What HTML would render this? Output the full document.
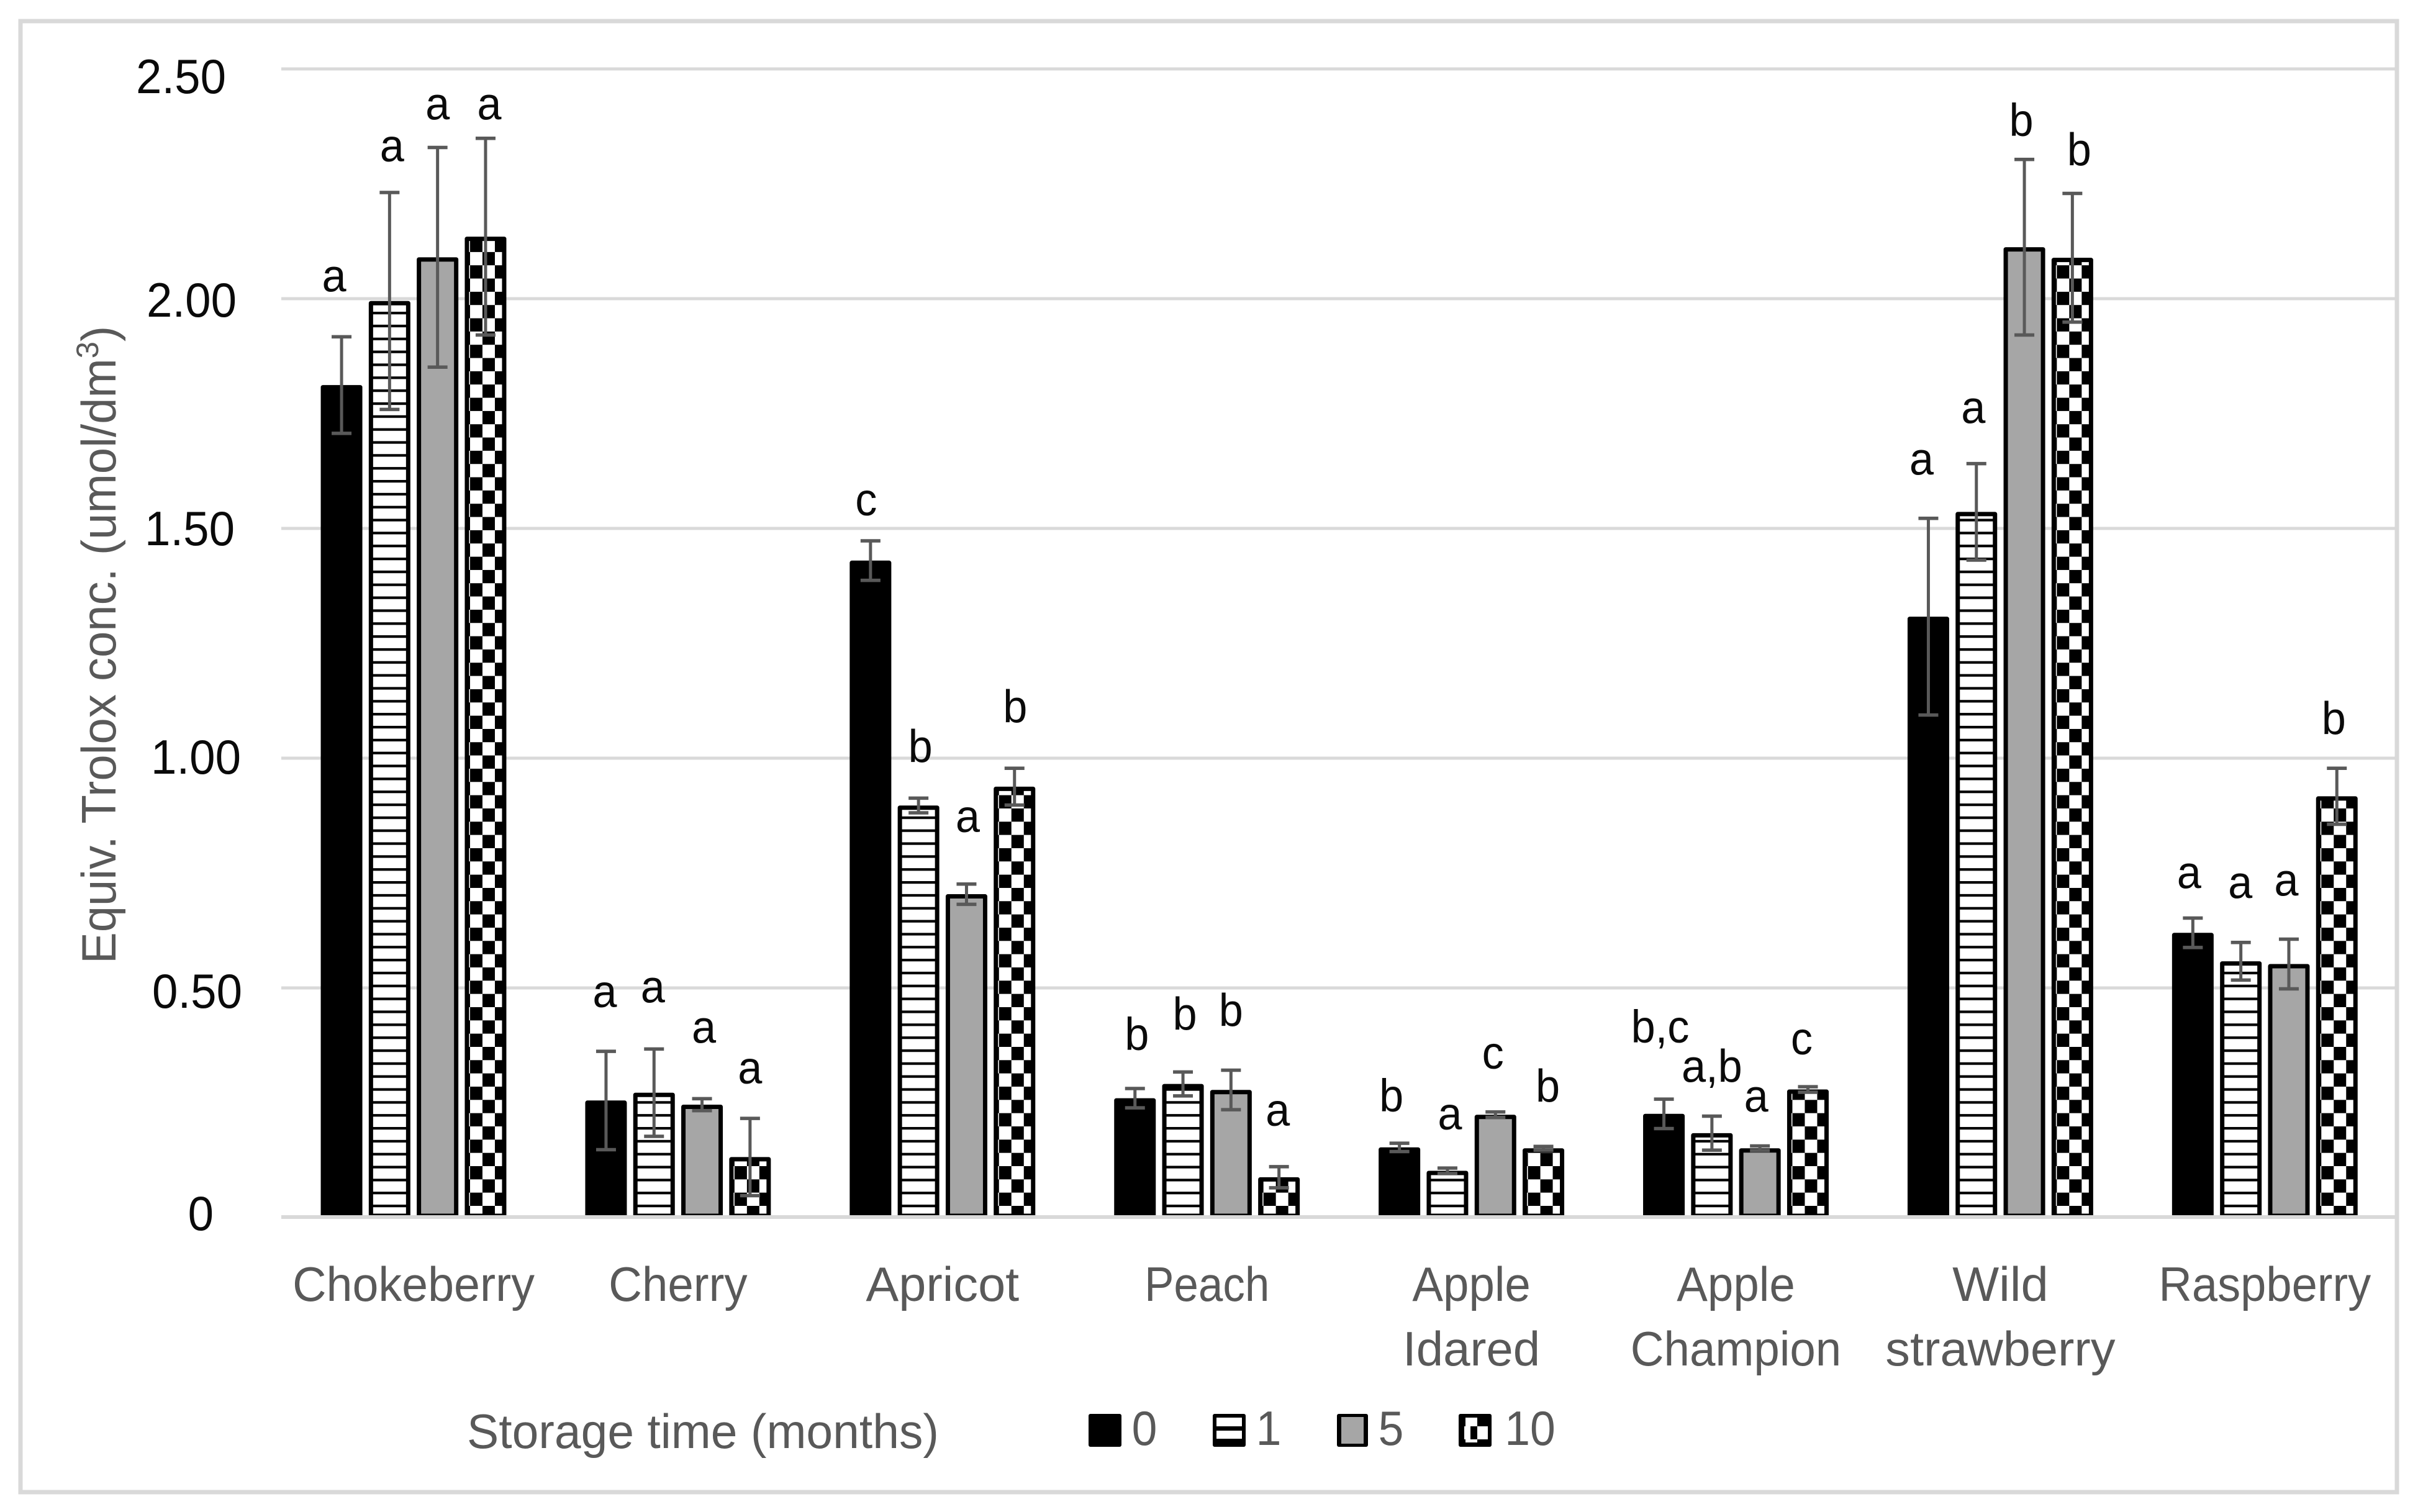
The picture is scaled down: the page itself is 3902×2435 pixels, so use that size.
<!DOCTYPE html>
<html lang="en">
<head>
<meta charset="utf-8">
<title>Equivalent Trolox concentration by fruit and storage time</title>
<style>
  html, body { margin: 0; padding: 0; background: #ffffff; }
  svg { display: block; }
  text { font-family: "Liberation Sans", sans-serif; }
</style>
</head>
<body>
<svg id="chart" xmlns="http://www.w3.org/2000/svg" width="3902" height="2435" viewBox="0 0 3902 2435">
  <defs id="defs">
    <pattern id="stripes" patternUnits="userSpaceOnUse" x="0" y="1940" width="21" height="20.84">
      <rect x="0" y="0" width="21" height="20.84" fill="#ffffff"></rect>
      <rect x="0" y="0" width="21" height="4.2" fill="#000000"></rect>
    </pattern>
  </defs>
  <rect x="0" y="0" width="3902" height="2435" fill="#ffffff"></rect>
  <rect x="33" y="34" width="3827" height="2369" fill="#ffffff" stroke="#d9d9d9" stroke-width="7"></rect>
  <g id="grid"></g>
  <g id="ticks"></g>
  <g id="bars"></g>
  <g id="errors"></g>
  <g id="letters"></g>
  <rect id="baseline" x="453" y="1957" width="3404" height="6" fill="#d9d9d9"></rect>
  <g id="cats"></g>
  <text transform="translate(186,1552) rotate(-90) scale(0.975,1)" font-size="78" fill="#595959">Equiv. Trolox conc. (umol/dm<tspan font-size="50" dy="-28">3</tspan><tspan dy="28">)</tspan></text>
  <text transform="translate(752,2332) scale(0.985,1)" font-size="78" fill="#595959">Storage time (months)</text>
  <g id="legend">
    <g>
      <rect x="1753" y="2277" width="53" height="53" rx="3" fill="#000000"></rect>
      <text transform="translate(1843,2327) scale(0.94,1)" text-anchor="middle" font-size="78" fill="#595959">0</text>
    </g>
    <g>
      <rect x="1953" y="2277" width="53" height="53" rx="3" fill="#000000"></rect>
      <rect x="1959" y="2283" width="41" height="14" fill="#ffffff"></rect>
      <rect x="1959" y="2304" width="41" height="13" fill="#ffffff"></rect>
      <text transform="translate(2043,2327) scale(0.94,1)" text-anchor="middle" font-size="78" fill="#595959">1</text>
    </g>
    <g>
      <rect x="2153" y="2277" width="50" height="53" rx="3" fill="#000000"></rect>
      <rect x="2160" y="2282" width="36" height="43" fill="#a6a6a6"></rect>
      <text transform="translate(2240,2327) scale(0.94,1)" text-anchor="middle" font-size="78" fill="#595959">5</text>
    </g>
    <g>
      <rect x="2349" y="2277" width="53" height="53" rx="3" fill="#000000"></rect>
      <rect x="2360" y="2283" width="19" height="14" fill="#ffffff"></rect>
      <rect x="2358" y="2297" width="10" height="21" fill="#ffffff"></rect>
      <rect x="2379" y="2297" width="17" height="21" fill="#ffffff"></rect>
      <rect x="2360" y="2318" width="19" height="5" fill="#ffffff"></rect>
      <text transform="translate(2464,2327) scale(0.94,1)" text-anchor="middle" font-size="78" fill="#595959">10</text>
    </g>
  </g>
</svg>
<script>
// ---- chart data ----
const categories = [['Chokeberry'], ['Cherry'], ['Apricot'], ['Peach'], ['Apple', 'Idared'], ['Apple', 'Champion'], ['Wild', 'strawberry'], ['Raspberry']];
const storageMonths = ['0', '1', '5', '10'];
const values0 = [1.812, 0.255, 1.43, 0.26, 0.153, 0.226, 1.308, 0.62];
const values1 = [1.995, 0.272, 0.897, 0.291, 0.102, 0.184, 1.536, 0.558];
const values5 = [2.09, 0.246, 0.704, 0.278, 0.224, 0.151, 2.112, 0.552];
const values10 = [2.135, 0.132, 0.938, 0.088, 0.151, 0.279, 2.089, 0.917];
const errors0 = [0.105, 0.107, 0.043, 0.021, 0.009, 0.032, 0.214, 0.032];
const errors1 = [0.236, 0.095, 0.016, 0.026, 0.006, 0.037, 0.105, 0.041];
const errors5 = [0.239, 0.013, 0.022, 0.043, 0.006, 0.005, 0.191, 0.054];
const errors10 = [0.214, 0.084, 0.04, 0.023, 0.004, 0.006, 0.14, 0.061];
const letters0 = ['a', 'a', 'c', 'b', 'b', 'b,c', 'a', 'a'];
const letters1 = ['a', 'a', 'b', 'b', 'a', 'a,b', 'a', 'a'];
const letters5 = ['a', 'a', 'a', 'b', 'c', 'a', 'b', 'a'];
const letters10 = ['a', 'a', 'b', 'a', 'b', 'c', 'b', 'b'];
const tickValues = [0, 0.5, 1, 1.5, 2, 2.5];
const tickLabels = ['0', '0.50', '1.00', '1.50', '2.00', '2.50'];

const seriesValues = [values0, values1, values5, values10];
const seriesErrors = [errors0, errors1, errors5, errors10];
const seriesLetters = [letters0, letters1, letters5, letters10];

// ---- axis functions ----
const SVG_NS = 'http://www.w3.org/2000/svg';
const yScale = function (v) { return 1961 - 740 * v; };
const xCategory = function (i) { return 666 + 425.9 * i; };
const xBar = function (i, j) { return xCategory(i) + (j - 1.5) * 77.3; };
const BAR_W = 67;
const BAR_STROKE = 7;

// hand placement of annotations in the original figure (px, not data)
const letterDx = [[-12, -2, -7, 3, -13, -6, -11, -6], [4, -2, 3, 3, 4, 0, -5, -1], [0, 3, 2, 0, -4, -6, -5, -4], [6, 0, 1, -2, 7, -10, 11, -5]];
const letterDy = [[-73, -71, -41, -62, -51, -91, -70, -48], [-50, -75, -58, -68, -62, -55, -65, -71], [-45, -90, -84, -71, -70, -55, -38, -70], [-30, -56, -74, -66, -72, -52, -45, -55]];
const tickRight = [344, 390, 388, 378, 381, 364];
const tickDy = [20, 32, 25, 27, 29, 39];
const labelStretch = { Chokeberry: 0.967, Cherry: 0.955, Apricot: 1.017, Peach: 0.91, Apple: 0.955, Idared: 1.0, Champion: 0.955, Wild: 1.02, strawberry: 1.017, Raspberry: 0.95 };

function make(tag, attrs, parent) {
  const node = document.createElementNS(SVG_NS, tag);
  for (const k in attrs) node.setAttribute(k, attrs[k]);
  parent.appendChild(node);
  return node;
}

const gridG = document.getElementById('grid');
const ticksG = document.getElementById('ticks');
const barsG = document.getElementById('bars');
const errG = document.getElementById('errors');
const lettersG = document.getElementById('letters');
const catsG = document.getElementById('cats');
const defs = document.getElementById('defs');

// gridlines and tick labels
tickValues.forEach(function (t, k) {
  if (t !== 0) {
    const line = make('rect', { x: 453, y: yScale(t) - 2.5, width: 3404, height: 5, fill: '#d9d9d9' }, gridG);
    
    
  }
  const label = make('text', {
    transform: 'translate(' + tickRight[k] + ',' + (yScale(t) + tickDy[k]) + ') scale(0.955,1)',
    'text-anchor': 'end', 'font-size': 78, fill: '#0a0a0a'
  }, ticksG);
  
  
  label.textContent = tickLabels[k];
});

// checker pattern aligned to one bar
function checkerPattern(id, left) {
  const p = make('pattern', { id: id, patternUnits: 'userSpaceOnUse', x: left, y: 1942, width: 40, height: 42.67 }, defs);
  make('rect', { x: 0, y: 0, width: 40, height: 42.67, fill: '#ffffff' }, p);
  make('rect', { x: 20, y: 0, width: 20, height: 21.33, fill: '#000000' }, p);
  make('rect', { x: 0, y: 21.33, width: 20, height: 21.34, fill: '#000000' }, p);
}

// bars, error bars and letters
seriesValues.forEach(function (vals, j) {
  vals.forEach(function (v, i) {
    const cx = xBar(i, j);
    const top = yScale(v);
    const left = cx - BAR_W / 2;
    let fill = '#000000';
    if (j === 1) fill = 'url(#stripes)';
    if (j === 2) fill = '#a6a6a6';
    if (j === 3) {
      const pid = 'checker-' + i;
      checkerPattern(pid, left + 8.5);
      fill = 'url(#' + pid + ')';
    }
    const bar = make('rect', {
      x: left + BAR_STROKE / 2, y: top + BAR_STROKE / 2,
      width: BAR_W - BAR_STROKE, height: Math.max(0, yScale(0) - 3 - top - BAR_STROKE / 2),
      fill: fill, stroke: '#000000', 'stroke-width': BAR_STROKE, 'stroke-linejoin': 'round'
    }, barsG);
    
    

    const e = seriesErrors[j][i];
    const yHi = yScale(v + e);
    const yLo = yScale(v - e);
    const err = make('g', { stroke: '#595959', fill: 'none' }, errG);
    
    
    make('line', { x1: cx, x2: cx, y1: yHi, y2: yLo, 'stroke-width': 5 }, err);
    make('line', { x1: cx - 16, x2: cx + 16, y1: yHi, y2: yHi, 'stroke-width': 5.5 }, err);
    make('line', { x1: cx - 16, x2: cx + 16, y1: yLo, y2: yLo, 'stroke-width': 5.5 }, err);

    const txt = make('text', {
      transform: 'translate(' + (cx + letterDx[j][i]) + ',' + (yHi + letterDy[j][i]) + ') scale(0.95,1)',
      'text-anchor': 'middle', 'font-size': 74, fill: '#0a0a0a'
    }, lettersG);
    
    
    txt.textContent = seriesLetters[j][i];
  });
});

// category labels
categories.forEach(function (lines, i) {
  lines.forEach(function (lineText, r) {
    const t = make('text', {
      transform: 'translate(' + xCategory(i) + ',' + (2095 + r * 104) + ') scale(' + labelStretch[lineText] + ',1)',
      'text-anchor': 'middle', 'font-size': 78, fill: '#595959'
    }, catsG);
    
    
    t.textContent = lineText;
  });
});
</script>
</body>
</html>
